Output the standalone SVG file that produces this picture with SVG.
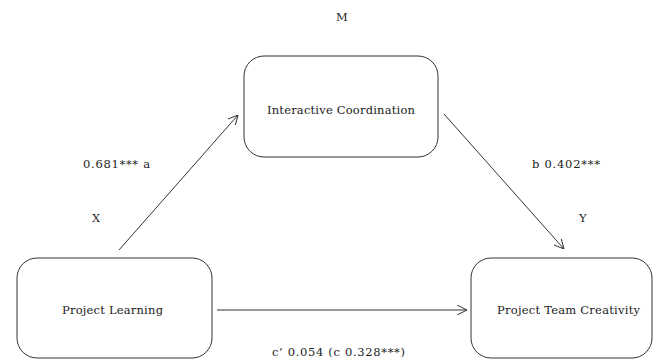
<svg xmlns="http://www.w3.org/2000/svg" width="654" height="360" viewBox="0 0 654 360">
<defs>
<marker id="arr" viewBox="0 0 10 10" refX="10" refY="5" markerWidth="10" markerHeight="10" markerUnits="userSpaceOnUse" orient="auto">
<path d="M0,0 L10,5 L0,10" fill="none" stroke="#333" stroke-width="1"/>
</marker>
<style>
.box{fill:#fff;stroke:#333;stroke-width:1}
.t{font-family:"DejaVu Serif","Liberation Serif",serif;font-size:11.5px;fill:#222}
.ln{stroke:#333;stroke-width:1;fill:none;marker-end:url(#arr)}
</style>
</defs>
<rect width="654" height="360" fill="#fff"/>
<g id="connectors">
<line class="ln" x1="119" y1="250" x2="238" y2="115"/>
<line class="ln" x1="444" y1="114" x2="564" y2="249"/>
<line class="ln" x1="217" y1="310" x2="467" y2="310"/>
</g>
<g id="node-m">
<rect class="box" x="244" y="56" width="194" height="101" rx="20" ry="20"/>
<text class="t" x="267" y="114" textLength="148" lengthAdjust="spacing">Interactive Coordination</text>
</g>
<g id="node-x">
<rect class="box" x="17" y="258" width="195" height="100" rx="20" ry="20"/>
<text class="t" x="62" y="314" textLength="101" lengthAdjust="spacing">Project Learning</text>
</g>
<g id="node-y">
<rect class="box" x="471" y="258" width="181" height="100" rx="20" ry="20"/>
<text class="t" x="497" y="314" textLength="143" lengthAdjust="spacing">Project Team Creativity</text>
</g>
<g id="labels">
<text class="t" x="336" y="21">M</text>
<text class="t" x="83" y="168" textLength="67" lengthAdjust="spacing">0.681*** a</text>
<text class="t" x="92" y="222">X</text>
<text class="t" x="532" y="168" textLength="68" lengthAdjust="spacing">b 0.402***</text>
<text class="t" x="579" y="222">Y</text>
<text class="t" x="272" y="356" textLength="133" lengthAdjust="spacing">c’ 0.054 (c 0.328***)</text>
</g>
</svg>
